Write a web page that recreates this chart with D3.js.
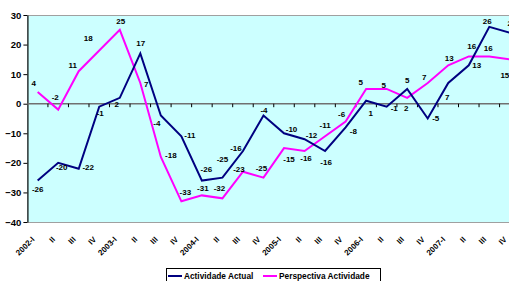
<!DOCTYPE html>
<html>
<head>
<meta charset="utf-8">
<script src="https://cdn.jsdelivr.net/npm/d3@7"></script>
<style>
  body { margin: 0; background: #fff; }
  svg { display: block; font-family: "Liberation Sans", Arial, sans-serif; font-weight: bold; }
</style>
</head>
<body>
<svg id="chart" width="509" height="281"></svg>
<script>
// quarters
const categories = ['2002-I','II','III','IV','2003-I','II','III','IV','2004-I','II','III','IV',
  '2005-I','II','III','IV','2006-I','II','III','IV','2007-I','II','III','IV'];
const actual = [-26,-20,-22,-1,2,17,-4,-11,-26,-25,-16,-4,-10,-12,-16,-8,1,-1,5,-5,7,13,26,24];
const perspectiva = [4,-2,11,18,25,7,-18,-33,-31,-32,-23,-25,-15,-16,-11,-6,5,5,2,7,13,16,16,15];
const yTicks = [-40,-30,-20,-10,0,10,20,30];
const seriesNames = ['Actividade Actual','Perspectiva Actividade'];

// label placement (dx, dy from point), hand tuned like the original
const actualLabelPos = [[0,9],[3.5,5],[9.5,-1],[1,6.6],[-3,7],[0.5,-10],[-4,8],[8.5,-0.7],
  [4.5,-11],[0,-18.5],[-7,-3],[0.5,-4.8],[7.5,-3.3],[7,-3.3],[1,11.5],[7.7,4.4],
  [4.5,12.6],[7.6,1.6],[0,-8],[8,0],[-1,14.3],[8,0],[-2,-5.5],[2,-9.5]];
const perspLabelPos = [[-4,-8],[-3,-12],[-6,-6],[-11,-11.5],[1,-8],[6,1],[10,-1],[4,-9],
  [1,-6.5],[-3,-10],[-4,-2.5],[-2,-9.5],[5,11],[1.5,7],[0,-10.4],[-4,-7.3],
  [-5.5,-6.2],[-3,-3],[-1,10.5],[-3.5,-5.3],[1,-7],[3,-9.7],[-1,-8],[-5,15.7]];

const svg = d3.select('#chart');
const pLeft = 27.4, pRight = 520.1, pTop = 15, pBottom = 222;

const x = d3.scaleBand().domain(d3.range(categories.length)).range([pLeft, pRight]);
const y = d3.scaleLinear().domain([-40, 30]).range([pBottom, pTop]);
const cx = i => x(i) + x.bandwidth() / 2;

// plot area
svg.append('rect').attr('x', pLeft).attr('y', pTop).attr('width', pRight - pLeft).attr('height', pBottom - pTop)
  .attr('fill', '#ccffff');
svg.append('line').attr('x1', pLeft).attr('x2', pRight).attr('y1', pTop + 0.5).attr('y2', pTop + 0.5)
  .attr('stroke', '#a0a0a0').attr('stroke-width', 1.2);
svg.append('line').attr('x1', pLeft).attr('x2', pRight).attr('y1', pBottom + 0.5).attr('y2', pBottom + 0.5)
  .attr('stroke', '#a0a0a0').attr('stroke-width', 1.2);

// y axis
const yAxis = d3.axisLeft(y).tickValues(yTicks).tickSize(4).tickSizeOuter(0).tickPadding(2);
const ya = svg.append('g').attr('transform', `translate(${pLeft},0)`).call(yAxis);
ya.select('.domain').attr('stroke', '#000').attr('stroke-width', 1.2);
ya.selectAll('.tick line').attr('stroke', '#000');
ya.selectAll('.tick text').attr('font-size', '9.5px').attr('font-weight', 'bold')
  .attr('font-family', '"Liberation Sans", Arial, sans-serif').attr('fill', '#000');

// zero line with category ticks
svg.append('line').attr('x1', pLeft).attr('x2', pRight).attr('y1', y(0)).attr('y2', y(0))
  .attr('stroke', '#707070').attr('stroke-width', 1.5);
svg.append('g').selectAll('line').data(d3.range(1, categories.length)).join('line')
  .attr('x1', i => x(i)).attr('x2', i => x(i))
  .attr('y1', y(0)).attr('y2', y(0) + 3.5)
  .attr('stroke', '#000').attr('stroke-width', 1);

// x labels
svg.append('g').selectAll('text').data(categories).join('text')
  .attr('transform', (d, i) => `translate(${cx(i) - 2.5},240) rotate(-45)`)
  .attr('text-anchor', 'end')
  .attr('font-size', '8px')
  .text(d => d);

// lines
const line = d3.line().x((d, i) => cx(i)).y(d => y(d));
svg.append('path').datum(perspectiva).attr('d', line)
  .attr('fill', 'none').attr('stroke', '#ff00ff').attr('stroke-width', 2);
svg.append('path').datum(actual).attr('d', line)
  .attr('fill', 'none').attr('stroke', '#000080').attr('stroke-width', 2);

// data labels
function labels(vals, pos) {
  svg.append('g').selectAll('text').data(vals).join('text')
    .attr('x', (d, i) => cx(i) + pos[i][0])
    .attr('y', (d, i) => y(d) + pos[i][1])
    .attr('text-anchor', 'middle')
    .attr('dominant-baseline', 'central')
    .attr('font-size', '8px')
    .text(d => d);
}
labels(perspectiva, perspLabelPos);
labels(actual, actualLabelPos);

// legend
const lg = svg.append('g');
lg.append('rect').attr('x', 166.5).attr('y', 268.5).attr('width', 214).attr('height', 22)
  .attr('fill', '#fff').attr('stroke', '#000');
const legendItems = [
  {name: seriesNames[0], color: '#000080', x: 168},
  {name: seriesNames[1], color: '#ff00ff', x: 263}
];
legendItems.forEach(it => {
  lg.append('line').attr('x1', it.x).attr('x2', it.x + 14).attr('y1', 276).attr('y2', 276)
    .attr('stroke', it.color).attr('stroke-width', 2);
  lg.append('text').attr('x', it.x + 16).attr('y', 279).attr('font-size', '8.3px').text(it.name);
});
</script>
</body>
</html>
